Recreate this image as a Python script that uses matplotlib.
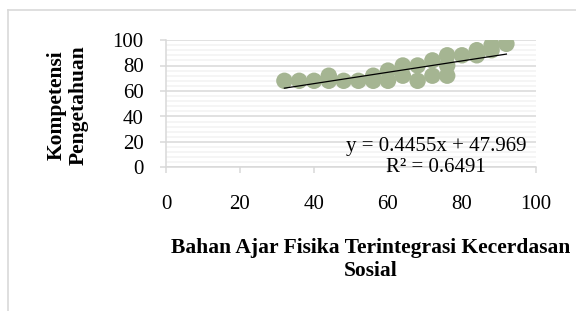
import numpy as np
import matplotlib.pyplot as plt
from matplotlib.lines import Line2D

plt.rcParams['font.family'] = ['Liberation Serif', 'DejaVu Serif']

# skor bahan ajar (x) i kompetensi pengetahuan (y)
bahan_ajar = [32, 36, 40, 44, 44, 48, 52, 56, 56, 60, 60, 64, 64, 68, 68,
              72, 72, 76, 76, 76, 80, 84, 84, 88, 88, 92]
kompetensi = [68, 68, 68, 72, 68, 68, 68, 72, 68, 76, 68, 80, 72, 80, 68,
              84, 72, 88, 80, 72, 88, 92, 88, 96, 92, 97]

slope = 0.4455
intercept = 47.969
r2 = 0.6491

x_ticks = [0, 20, 40, 60, 80, 100]
y_ticks = [0, 20, 40, 60, 80, 100]

kolor = '#a5b592'
szary = '#d9d9d9'

fig = plt.figure(figsize=(5.76, 3.11), dpi=100)
ax = fig.add_axes([166 / 576, 1 - 167.5 / 311, 370 / 576, 127.5 / 311])

# ramka wykresu (ucieta z prawej i z dolu)
fig.add_artist(Line2D([8 / 576, 1.0], [1 - 10 / 311, 1 - 10 / 311],
                      transform=fig.transFigure, color=szary, lw=1.2))
fig.add_artist(Line2D([8 / 576, 8 / 576], [0.0, 1 - 10 / 311],
                      transform=fig.transFigure, color=szary, lw=1.2))

ax.set_xlim(0, 100)
ax.set_ylim(0, 100)
ax.set_yticks(np.arange(0, 101, 4), minor=True)
ax.grid(axis='y', which='minor', color='#f2f2f2', lw=1.1)
ax.grid(axis='y', which='major', color=szary, lw=1.1)
ax.set_axisbelow(True)

ax.scatter(bahan_ajar, kompetensi, s=140, color=kolor, edgecolors='none', zorder=3)

xs = np.array([min(bahan_ajar), max(bahan_ajar)])
ax.plot(xs, slope * xs + intercept, color='black', lw=0.9, zorder=4)

ax.set_xticks(x_ticks)
ax.set_yticks(y_ticks)
ax.tick_params(axis='both', which='major', labelsize=15, color=szary,
               length=4, width=1.1)
ax.tick_params(axis='y', which='minor', length=0)
ax.tick_params(axis='y', pad=12)
ax.tick_params(axis='x', pad=16)
for s in ['top', 'right']:
    ax.spines[s].set_visible(False)
for s in ['left', 'bottom']:
    ax.spines[s].set_color(szary)
    ax.spines[s].set_linewidth(1.1)

fig.text(436 / 576, 1 - 146 / 311, f'y = {slope}x + {intercept}', fontsize=15,
         ha='center', va='center')
fig.text(436 / 576, 1 - 168 / 311, f'R² = {r2}', fontsize=15,
         ha='center', va='center')

fig.text(68 / 576, 1 - 105 / 311, 'Kompetensi\nPengetahuan', fontsize=15.5,
         fontweight='bold', rotation=90, ha='center', va='center',
         linespacing=1.15, multialignment='center')
fig.text(371 / 576, 1 - 259 / 311, 'Bahan Ajar Fisika Terintegrasi Kecerdasan\nSosial',
         fontsize=15.5, fontweight='bold', ha='center', va='center',
         linespacing=1.2, multialignment='center')

fig.savefig('out.png', dpi=100)
